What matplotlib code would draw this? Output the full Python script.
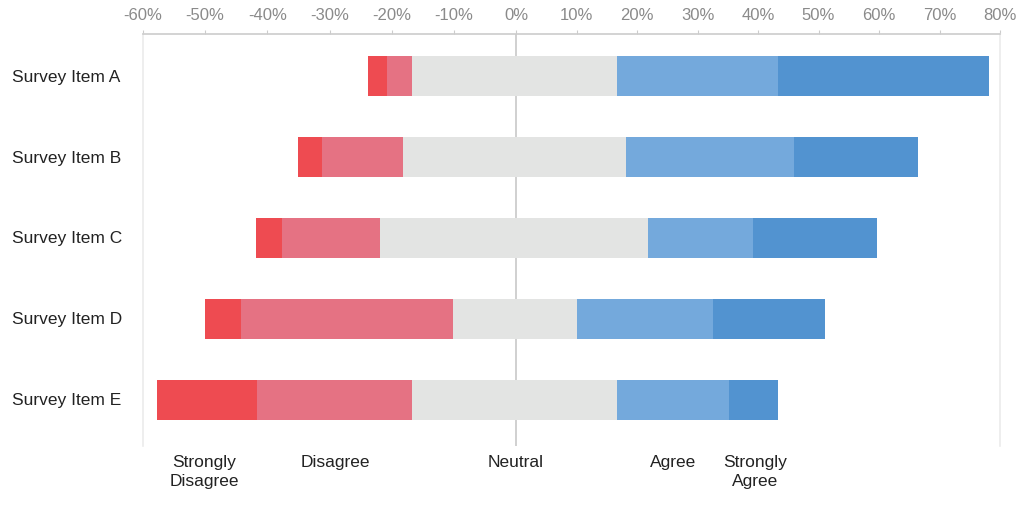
import matplotlib
matplotlib.use("Agg")
import matplotlib.pyplot as plt
import matplotlib.transforms as mtransforms
import numpy as np

plt.rcParams['font.family'] = ['Liberation Sans', 'DejaVu Sans']

items = ["Survey Item A", "Survey Item B", "Survey Item C", "Survey Item D", "Survey Item E"]
strongly_disagree = [3.0, 3.9, 4.2, 5.8, 16.0]
disagree = [4.0, 13.0, 15.8, 34.1, 25.0]
neutral = [33.5, 36.4, 43.7, 20.2, 33.4]
agree = [26.6, 27.8, 17.3, 22.5, 18.5]
strongly_agree = [34.8, 20.4, 20.5, 18.5, 8.1]

categories = ["Strongly\nDisagree", "Disagree", "Neutral", "Agree", "Strongly\nAgree"]
category_label_x = [-50.2, -29.1, 0, 26.0, 39.5]
tick_values = list(range(-60, 81, 10))

colors = ["#EE4B51", "#E57283", "#E3E4E3", "#74A9DC", "#5293D0"]

# the reference axis is stretched slightly differently on each side of 0
NEG_K, POS_K = 373 / 60, 484 / 80


def fwd(x):
    x = np.asarray(x, dtype=float)
    return np.where(x < 0, x * NEG_K, x * POS_K)


def inv(u):
    u = np.asarray(u, dtype=float)
    return np.where(u < 0, u / NEG_K, u / POS_K)


fig = plt.figure(figsize=(10.24, 5.10), dpi=100)
ax = fig.add_axes([143/1024, 1 - 447/510, (1000-143)/1024, (447-35)/510])
ax.set_xscale("function", functions=(fwd, inv))

sd = np.array(strongly_disagree)
d = np.array(disagree)
n = np.array(neutral)
a = np.array(agree)
sa = np.array(strongly_agree)

start = -(sd + d + n / 2)
y = np.arange(len(items))
h = 0.5
segments = [sd, d, n, a, sa]
left = start.copy()
ax.axvline(0, color="#C8C8C8", lw=1.2, zorder=0)
for seg, col in zip(segments, colors):
    ax.barh(y, seg, left=left, height=h, color=col, edgecolor="none", zorder=2)
    left = left + seg

ax.set_xlim(-60, 80)
ax.set_ylim(len(items) - 1 + 0.57, -0.52)
ax.set_yticks([])
ytrans = mtransforms.blended_transform_factory(ax.transAxes, ax.transData)
for yi, name in zip(y, items):
    ax.text(-131/857, yi, name, transform=ytrans, ha="left", va="center",
            fontsize=12.5, color="#222222")

ax.xaxis.tick_top()
ax.set_xticks(tick_values)
ax.set_xticklabels([f"{v}%" for v in tick_values], fontsize=12, color="#8A8A8A")
ax.xaxis.set_minor_locator(matplotlib.ticker.NullLocator())
ax.tick_params(axis="x", length=3, color="#CCCCCC", pad=6)

ax.spines["top"].set_color("#CCCCCC")
ax.spines["top"].set_linewidth(1.2)
for side in ["left", "right"]:
    ax.spines[side].set_color("#EBEBEB")
    ax.spines[side].set_linewidth(1.2)
ax.spines["bottom"].set_visible(False)

xtrans = ax.get_xaxis_transform()
for lab, xv in zip(categories, category_label_x):
    ax.text(xv, -(455 - 447) / 412, lab, transform=xtrans,
            ha="center", va="top", fontsize=12.5, color="#222222", linespacing=1.3)

fig.savefig("out.png", dpi=100, facecolor="white")
